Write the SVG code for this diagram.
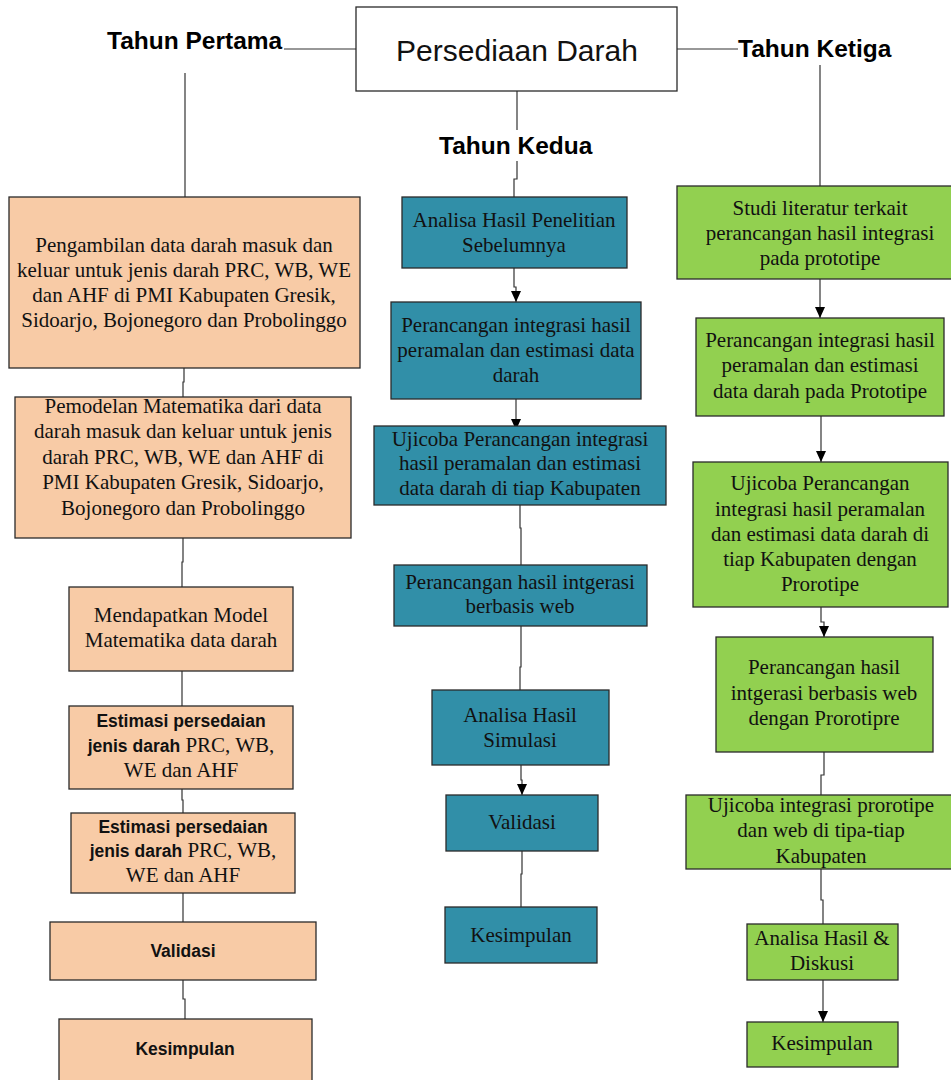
<svg xmlns="http://www.w3.org/2000/svg" width="951" height="1080" viewBox="0 0 951 1080">
<defs>
<style>
.bx{stroke:#2a2a2a;stroke-width:1.3}
.p{fill:#f8cba6}
.t{fill:#318fa8}
.g{fill:#92d050}
.w{fill:#ffffff}
.c{fill:none;stroke:#333;stroke-width:1.2}
.tm{font-family:"Liberation Serif","Times New Roman",serif;font-size:21px;fill:#111;text-anchor:middle}
.ab{font-family:"Liberation Sans",Arial,sans-serif;font-weight:bold;font-size:17.5px;fill:#111;text-anchor:middle}
.hd{font-family:"Liberation Sans",Arial,sans-serif;font-weight:bold;font-size:24.5px;fill:#000}
.ti{font-family:"Liberation Sans",Arial,sans-serif;font-size:30px;fill:#111;text-anchor:middle}
</style>
<marker id="ar" markerUnits="userSpaceOnUse" markerWidth="11" markerHeight="10" viewBox="0 0 11 10" refX="11" refY="5" orient="auto">
<path d="M0,0 L11,5 L0,10 Z" fill="#000"/>
</marker>
</defs>
<rect width="951" height="1080" fill="#ffffff"/>

<g id="connectors">
<line class="c" x1="284" y1="49" x2="356" y2="49"/>
<line class="c" x1="677" y1="49" x2="738" y2="49"/>
<line class="c" x1="185" y1="73" x2="185" y2="197"/>
<line class="c" x1="820" y1="65" x2="820" y2="186"/>
<line class="c" x1="517" y1="91" x2="517" y2="130"/>
<polyline class="c" points="517,161 517,179 514,179 514,197"/>
<polyline class="c" points="184,368 184,382 183,382 183,397"/>
<polyline class="c" points="183,538 183,562 182,562 182,587"/>
<line class="c" x1="182" y1="671" x2="182" y2="706"/>
<polyline class="c" points="182,789 182,800 183,800 183,813"/>
<line class="c" x1="183" y1="893" x2="183" y2="922"/>
<polyline class="c" points="183,980 183,999 185,999 185,1019"/>
<polyline class="c" points="514,268 514,287 516,287 516,302" marker-end="url(#ar)"/>
<line class="c" x1="516" y1="399" x2="516" y2="430" marker-end="url(#ar)"/>
<polyline class="c" points="520,505 520,528 521,528 521,565"/>
<polyline class="c" points="521,626 521,667 520,667 520,690"/>
<polyline class="c" points="521,765 521,780 522,780 522,795" marker-end="url(#ar)"/>
<polyline class="c" points="522,851 522,874 521,874 521,907"/>
<line class="c" x1="820" y1="279" x2="820" y2="318" marker-end="url(#ar)"/>
<line class="c" x1="821" y1="416" x2="821" y2="462" marker-end="url(#ar)"/>
<polyline class="c" points="821,607 821,622 824,622 824,637" marker-end="url(#ar)"/>
<polyline class="c" points="824,752 824,775 821,775 821,795"/>
<polyline class="c" points="821,869 821,900 823,900 823,924"/>
<line class="c" x1="823" y1="980" x2="823" y2="1022" marker-end="url(#ar)"/>
</g>

<g id="header">
<g id="title">
<rect class="bx w" x="356" y="7" width="321" height="84"/>
<text class="ti" x="517" y="61">Persediaan Darah</text>
</g>
<text id="tahun-pertama" class="hd" x="107" y="49">Tahun Pertama</text>
<text id="tahun-kedua" class="hd" x="439" y="154">Tahun Kedua</text>
<text id="tahun-ketiga" class="hd" x="738" y="57">Tahun Ketiga</text>
</g>

<g id="l1">
<rect class="bx p" x="9" y="197" width="351" height="171"/>
<text class="tm" x="184" y="252">Pengambilan data darah masuk dan</text>
<text class="tm" x="184" y="277">keluar untuk jenis darah PRC, WB, WE</text>
<text class="tm" x="184" y="302">dan AHF di PMI Kabupaten Gresik,</text>
<text class="tm" x="184" y="327">Sidoarjo, Bojonegoro dan Probolinggo</text>
</g>
<g id="l2">
<rect class="bx p" x="15" y="397" width="336" height="141"/>
<text class="tm" x="183" y="413">Pemodelan Matematika dari data</text>
<text class="tm" x="183" y="438">darah masuk dan keluar untuk jenis</text>
<text class="tm" x="183" y="464">darah PRC, WB, WE dan AHF di</text>
<text class="tm" x="183" y="489">PMI Kabupaten Gresik, Sidoarjo,</text>
<text class="tm" x="183" y="515">Bojonegoro dan Probolinggo</text>
</g>
<g id="l3">
<rect class="bx p" x="69" y="587" width="224" height="84"/>
<text class="tm" x="181" y="622">Mendapatkan Model</text>
<text class="tm" x="181" y="647">Matematika data darah</text>
</g>
<g id="l4">
<rect class="bx p" x="69" y="706" width="224" height="83"/>
<text class="ab" x="181" y="727">Estimasi persedaian</text>
<text class="ab" x="181" y="752">jenis darah<tspan class="tm" style="font-weight:normal"> PRC, WB,</tspan></text>
<text class="tm" x="181" y="777">WE dan AHF</text>
</g>
<g id="l5">
<rect class="bx p" x="71" y="813" width="224" height="80"/>
<text class="ab" x="183" y="833">Estimasi persedaian</text>
<text class="ab" x="183" y="857">jenis darah<tspan class="tm" style="font-weight:normal"> PRC, WB,</tspan></text>
<text class="tm" x="183" y="882">WE dan AHF</text>
</g>
<g id="l6">
<rect class="bx p" x="50" y="922" width="266" height="58"/>
<text class="ab" x="183" y="957">Validasi</text>
</g>
<g id="l7">
<rect class="bx p" x="59" y="1019" width="253" height="70"/>
<text class="ab" x="185" y="1055">Kesimpulan</text>
</g>

<g id="m1">
<rect class="bx t" x="402" y="197" width="225" height="71"/>
<text class="tm" x="514" y="227">Analisa Hasil Penelitian</text>
<text class="tm" x="514" y="252">Sebelumnya</text>
</g>
<g id="m2">
<rect class="bx t" x="391" y="302" width="250" height="97"/>
<text class="tm" x="516" y="332">Perancangan integrasi hasil</text>
<text class="tm" x="516" y="357">peramalan dan estimasi data</text>
<text class="tm" x="516" y="382">darah</text>
</g>
<g id="m3">
<rect class="bx t" x="374" y="426" width="292" height="79"/>
<text class="tm" x="520" y="446">Ujicoba Perancangan integrasi</text>
<text class="tm" x="520" y="470">hasil peramalan dan estimasi</text>
<text class="tm" x="520" y="495">data darah di tiap Kabupaten</text>
</g>
<g id="m4">
<rect class="bx t" x="394" y="565" width="253" height="61"/>
<text class="tm" x="520" y="589">Perancangan hasil intgerasi</text>
<text class="tm" x="520" y="613">berbasis web</text>
</g>
<g id="m5">
<rect class="bx t" x="432" y="690" width="177" height="75"/>
<text class="tm" x="520" y="722">Analisa Hasil</text>
<text class="tm" x="520" y="747">Simulasi</text>
</g>
<g id="m6">
<rect class="bx t" x="446" y="795" width="152" height="56"/>
<text class="tm" x="522" y="829">Validasi</text>
</g>
<g id="m7">
<rect class="bx t" x="445" y="907" width="152" height="56"/>
<text class="tm" x="521" y="942">Kesimpulan</text>
</g>

<g id="r1">
<rect class="bx g" x="677" y="186" width="280" height="93"/>
<text class="tm" x="820" y="215">Studi literatur terkait</text>
<text class="tm" x="820" y="240">perancangan hasil integrasi</text>
<text class="tm" x="820" y="265">pada prototipe</text>
</g>
<g id="r2">
<rect class="bx g" x="696" y="318" width="248" height="98"/>
<text class="tm" x="820" y="347">Perancangan integrasi hasil</text>
<text class="tm" x="820" y="372">peramalan dan estimasi</text>
<text class="tm" x="820" y="398">data darah pada Prototipe</text>
</g>
<g id="r3">
<rect class="bx g" x="693" y="462" width="255" height="145"/>
<text class="tm" x="820" y="490">Ujicoba Perancangan</text>
<text class="tm" x="820" y="516">integrasi hasil peramalan</text>
<text class="tm" x="820" y="541">dan estimasi data darah di</text>
<text class="tm" x="820" y="566">tiap Kabupaten dengan</text>
<text class="tm" x="820" y="591">Prorotipe</text>
</g>
<g id="r4">
<rect class="bx g" x="716" y="637" width="217" height="115"/>
<text class="tm" x="824" y="674">Perancangan hasil</text>
<text class="tm" x="824" y="700">intgerasi berbasis web</text>
<text class="tm" x="824" y="725">dengan Prorotipre</text>
</g>
<g id="r5">
<rect class="bx g" x="686" y="795" width="271" height="74"/>
<text class="tm" x="821" y="812">Ujicoba integrasi prorotipe</text>
<text class="tm" x="821" y="837">dan web di tipa-tiap</text>
<text class="tm" x="821" y="863">Kabupaten</text>
</g>
<g id="r6">
<rect class="bx g" x="747" y="924" width="151" height="56"/>
<text class="tm" x="822" y="945">Analisa Hasil &amp;</text>
<text class="tm" x="822" y="970">Diskusi</text>
</g>
<g id="r7">
<rect class="bx g" x="747" y="1022" width="151" height="45"/>
<text class="tm" x="822" y="1050">Kesimpulan</text>
</g>
</svg>
